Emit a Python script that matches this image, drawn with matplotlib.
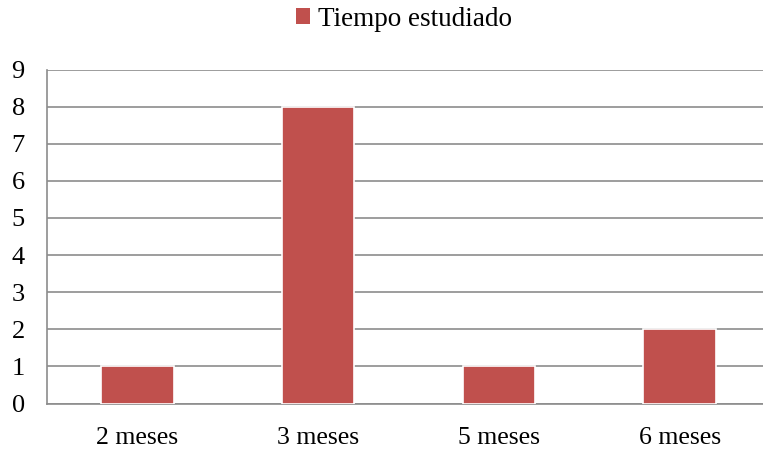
import matplotlib
matplotlib.use("Agg")
import matplotlib.pyplot as plt
from matplotlib.patches import Patch

categories = ["2 meses", "3 meses", "5 meses", "6 meses"]
values = [1, 8, 1, 2]
yticks = [0, 1, 2, 3, 4, 5, 6, 7, 8, 9]
series_name = "Tiempo estudiado"

plt.rcParams['font.family'] = ['Liberation Serif', 'DejaVu Serif']

W, H = 763, 450
fig = plt.figure(figsize=(W/100, H/100), dpi=100)
left, right, top, bottom = 47, 770, 69.5, 403.5
ax = fig.add_axes([left/W, 1 - bottom/H, (right-left)/W, (bottom-top)/H])

color = "#C0504D"
grid = "#8C8C8C"
x = list(range(len(categories)))
ax.bar(x, values, width=0.4, color=color, edgecolor="white", linewidth=1.2, zorder=3)

ax.set_xlim(-0.5, len(categories) - 0.5)
ax.set_ylim(0, 9)
ax.set_yticks(yticks)
ax.set_yticklabels([str(v) for v in yticks], fontsize=19)
ax.set_xticks(x)
ax.set_xticklabels(categories, fontsize=18.5)
ax.tick_params(axis='both', length=0, colors='black')
ax.tick_params(axis='y', pad=16)
ax.tick_params(axis='x', pad=17)
ax.yaxis.grid(True, color=grid, linewidth=1.2, zorder=0)
for s in ["top", "right"]:
    ax.spines[s].set_visible(False)
for s in ["left", "bottom"]:
    ax.spines[s].set_color(grid)
    ax.spines[s].set_linewidth(1.2)

handle = Patch(facecolor=color, edgecolor="none")
fig.legend([handle], [series_name], loc="center", bbox_to_anchor=(404/W, 1 - 19/H),
           frameon=False, fontsize=19.5, handlelength=0.5, handleheight=0.5,
           handletextpad=0.3)

fig.savefig("out.png", dpi=100, facecolor="white")
